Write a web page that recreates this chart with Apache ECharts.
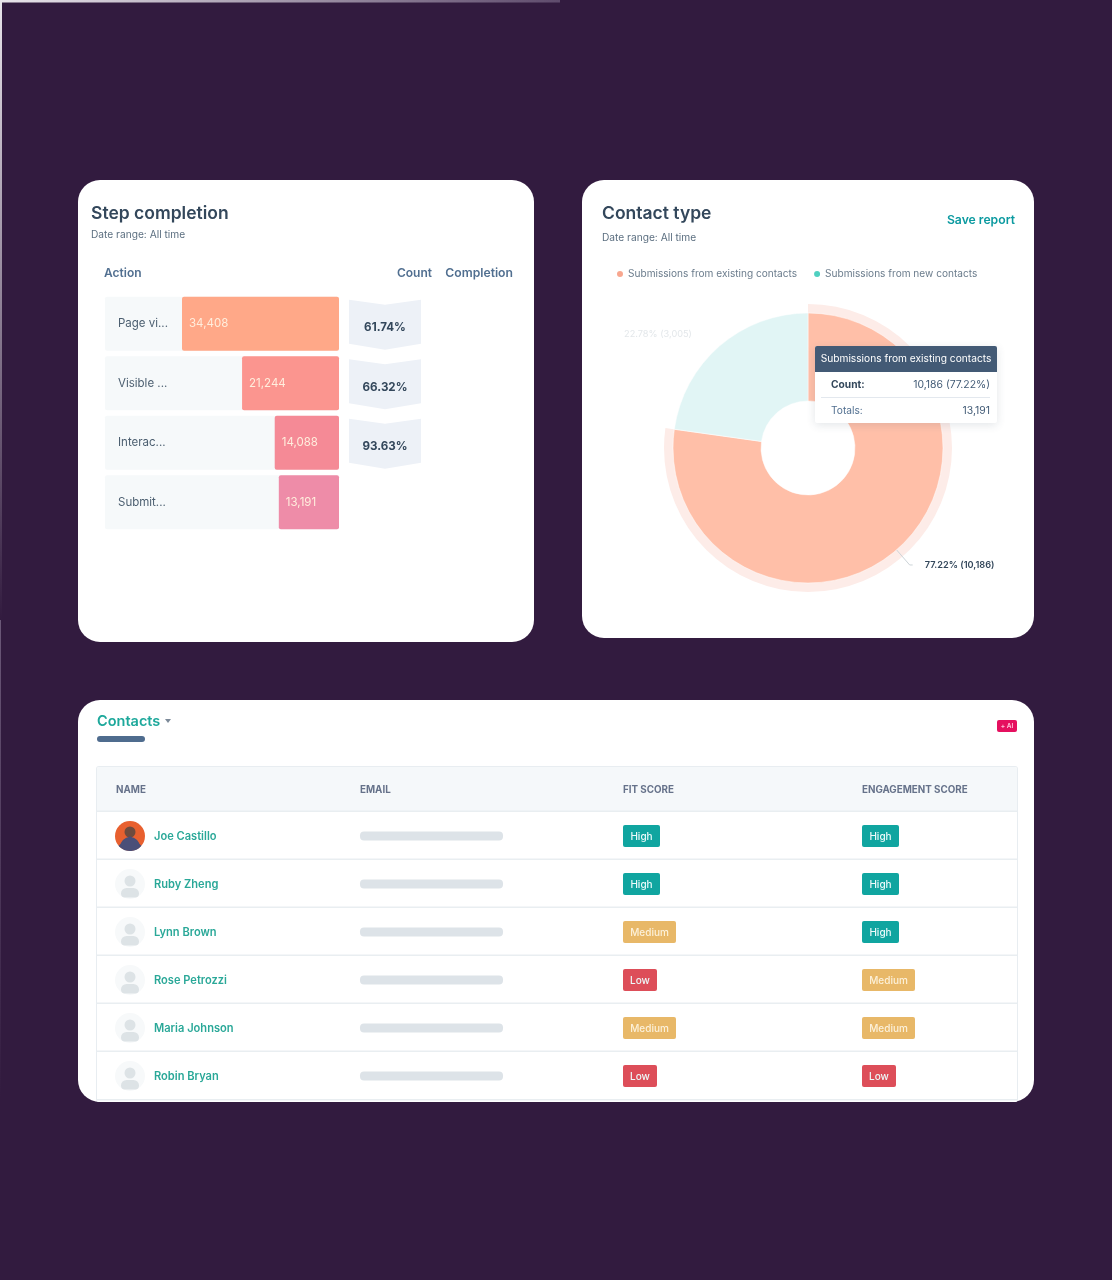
<!DOCTYPE html>
<html><head><meta charset="utf-8">
<style>html,body{margin:0;padding:0;background:#321b3f}#c{width:1112px;height:1280px}</style>
<script src="https://cdn.jsdelivr.net/npm/echarts@6/dist/echarts.min.js"></script>
</head><body><div id="c"></div>
<script>
const FONT = 'Inter';
const stepLabels = ['Page vi...', 'Visible ...', 'Interac...', 'Submit...'];
const stepCounts = [34408, 21244, 14088, 13191];
const stepColors = ['#ffa888', '#fb958f', '#f58a96', '#ee8ca8'];
const completionRates = [61.74, 66.32, 93.63];
const contactTypes = ['Submissions from existing contacts', 'Submissions from new contacts'];
const contactCounts = [10186, 3005];
const contactNames = ['Joe Castillo', 'Ruby Zheng', 'Lynn Brown', 'Rose Petrozzi', 'Maria Johnson', 'Robin Bryan'];
const fitScores = ['High', 'High', 'Medium', 'Low', 'Medium', 'Low'];
const engagementScores = ['High', 'High', 'High', 'Medium', 'Medium', 'Low'];
const tableHeaders = ['NAME', 'EMAIL', 'FIT SCORE', 'ENGAGEMENT SCORE'];

const els = [];
const rect = (x, y, w, h, fill, r, extra) => els.push(Object.assign({type:'rect', shape:{x, y, width:w, height:h, r:r||0}, style:{fill}, silent:true, z:0}, extra||{}));
const text = (x, y, t, size, fill, weight, align, extra) => els.push(Object.assign({type:'text', x, y, style:{text:t, fontFamily:FONT, fontSize:size, fill, fontWeight:weight||400, align:align||'left', verticalAlign:'middle'}, silent:true, z:1}, extra||{}));
const circle = (cx, cy, r, fill, extra) => els.push(Object.assign({type:'circle', shape:{cx, cy, r}, style:{fill}, silent:true, z:1}, extra||{}));
const wedge = (cx, cy, r, a0, a1, fill) => els.push({type:'sector', shape:{cx, cy, r, r0:0, startAngle:a0, endAngle:a1}, style:{fill}, silent:true, z:2});
const fade = (x2, y2, from, to) => new echarts.graphic.LinearGradient(0, 0, x2, y2, [{offset:0, color:from}, {offset:1, color:to}]);

// faint page edge, fading out along the top and the left
rect(0, 0, 560, 2.5, fade(1, 0, '#e9e5eb', '#5f4c6d'));
rect(0, 0, 2, 620, fade(0, 1, '#e9e5eb', '#321b3f'));
rect(0, 620, 1, 480, fade(0, 1, '#6b5878', '#321b3f'));
// cards
rect(78, 180, 456, 462, '#ffffff', 22);
rect(582, 180, 452, 458, '#ffffff', 22);
rect(78, 700, 956, 402, '#ffffff', 22);

// step completion text
text(91, 214, 'Step completion', 17.5, '#33475b', 600);
text(91, 235, 'Date range: All time', 10.2, '#5c6f80');
text(104, 273, 'Action', 12, '#516f90', 600);
text(432, 273, 'Count', 12, '#516f90', 600, 'right');
text(513, 273, 'Completion', 12.2, '#516f90', 600, 'right');

// contact type text
text(602, 214, 'Contact type', 17.5, '#33475b', 600);
text(602, 238, 'Date range: All time', 10.2, '#5c6f80');
text(1015, 220, 'Save report', 12.2, '#0b9aa0', 600, 'right');

// tooltip
const T = {z: 20};
rect(815, 346, 182, 77, '#ffffff', 2, {z:20, style:{fill:'#fff', shadowBlur:10, shadowColor:'rgba(50,70,90,0.14)', shadowOffsetY:2}});
rect(815, 346, 182, 26, '#435a75', [2,2,0,0], T);
text(906, 359, contactTypes[0], 10.2, '#ffffff', 400, 'center', {z:21});
text(831, 385, 'Count:', 10.2, '#33475b', 700, 'left', {z:21});
text(990, 385, '10,186 (77.22%)', 10.4, '#425b76', 400, 'right', {z:21});
rect(821, 397, 169, 1, '#e3e8ee', 0, T);
text(831, 411, 'Totals:', 10.2, '#516f90', 400, 'left', {z:21});
text(990, 411, '13,191', 10.4, '#425b76', 400, 'right', {z:21});

// contacts card
text(97, 722, 'Contacts', 14.5, '#1da89b', 600);
els.push({type:'polygon', shape:{points:[[165,719],[171,719],[168,723]]}, style:{fill:'#7c8a99'}, silent:true, z:1});
rect(97, 736, 48, 6, '#4f6c8e', 3);
rect(997, 720, 20, 12, '#e5105f', 2);
text(1007, 726.5, '+ AI', 6.5, '#ffc6dc', 600, 'center');

// table
const cols = [116, 360, 623, 862];
rect(96, 766, 922, 336, '#e8edf1', 3);
rect(97, 767, 920, 335, '#ffffff', 2);
rect(97, 767, 920, 44, '#f5f8fa', [2,2,0,0]);
tableHeaders.forEach((h, i) => text(cols[i], 790.5, h, 9.8, '#66728a', 700));
const badgeW = {High:37, Medium:53, Low:34};
const badgeC = {High:'#10a5a0', Medium:'#e8b868', Low:'#dd4e59'};
const badge = (x, cy, s) => {
  rect(x, cy-11, badgeW[s], 22, badgeC[s], 2, {z:1});
  text(x + badgeW[s]/2, cy+0.5, s, 10, s === 'Medium' ? '#fcf1da' : '#ecfafa', 500, 'center', {z:2});
};
contactNames.forEach((n, i) => {
  const cy = 836 + 48*i;
  rect(97, cy-25.5, 920, 1.6, '#e9eef1', 0, {z:1});
  if (i === 0) {
    circle(130, cy, 15, '#e8602f');
    circle(130, cy-4, 5.5, '#6f4b3e', {z:2});
    wedge(130, cy, 15, 0.7, Math.PI-0.7, '#4a4f78');
    wedge(130, cy+11, 10, Math.PI, 2*Math.PI, '#4a4f78');
  } else {
    circle(130, cy, 15, '#f7f9fa');
    circle(130, cy-3, 5.5, '#dde3e6', {z:2});
    rect(121, cy+4, 18, 9.5, '#dde3e6', [7,7,5,5], {z:2});
  }
  text(154, cy+1, n, 11.1, '#2aa898', 600);
  rect(360, cy-4.5, 143, 9, '#dde3e8', 4, {z:1});
  badge(623, cy, fitScores[i]);
  badge(862, cy, engagementScores[i]);
});
rect(97, 1099, 920, 1.5, '#e9eef1', 0, {z:1});

const option = {
  backgroundColor: '#321b3f',
  animation: false,
  textStyle: {fontFamily: FONT},
  graphic: {elements: els},
  legend: {
    left: 610, top: 264, itemWidth: 8, itemHeight: 8, itemGap: 15, icon: 'circle',
    textStyle: {color: '#6b7c8c', fontSize: 10.1, fontFamily: FONT, padding:[0,0,0,-1]},
    data: [{name: contactTypes[0], itemStyle:{color:'#f8a78f'}}, {name: contactTypes[1], itemStyle:{color:'#4fd0c0'}}]
  },
  grid: [
    {left: 105, top: 294, width: 234, height: 238},
    {left: 349, top: 294, width: 72, height: 238}
  ],
  xAxis: [
    {gridIndex: 0, type: 'value', inverse: true, min: 0, max: 51284, show: false},
    {gridIndex: 1, type: 'value', min: 0, max: 1, show: false}
  ],
  yAxis: [
    {gridIndex: 0, type: 'category', inverse: true, data: stepLabels, position: 'left', axisLine:{show:false}, axisTick:{show:false}, z: 5,
      axisLabel: {inside: true, margin: 13, color: '#4c5f70', fontSize: 11.5, fontFamily: FONT, align:'left'}},
    {gridIndex: 1, type: 'category', inverse: true, data: stepLabels, show: false}
  ],
  series: [
    {type: 'bar', xAxisIndex: 0, yAxisIndex: 0, barWidth: 54, data: stepCounts.map((v, i) => ({value: v, itemStyle: {color: stepColors[i], borderRadius: 2}})),
      showBackground: true, backgroundStyle: {color: '#f6f9fa', borderRadius: 2},
      label: {show: true, position: 'insideLeft', distance: 7, color: '#ffeedd', fontSize: 11.5, fontFamily: FONT,
        formatter: p => p.value.toLocaleString('en-US')}},
    {type: 'custom', xAxisIndex: 1, yAxisIndex: 1, data: completionRates.map((v, i) => [0, i, v]), encode: {x: 0, y: 1},
      renderItem: (params, api) => {
        const p = api.coord([0, api.value(1)]);
        const w = api.size([1, 0])[0];
        const x0 = p[0], x1 = p[0] + w, c = p[1] + 1, m = (x0 + x1) / 2;
        const pts = [[x0, c-25],[m, c-20],[x1, c-25],[x1, c+19],[m, c+25],[x0, c+19]];
        return {type:'group', children:[
          {type:'polygon', shape:{points:pts}, style:{fill:'#edf1f7'}},
          {type:'text', style:{text: api.value(2).toFixed(2) + '%', x:m, y:c+3, align:'center', verticalAlign:'middle', fontFamily:FONT, fontSize:11.6, fontWeight:700, fill:'#33475b'}}
        ]};
      }},
    {type: 'pie', center: [808, 448], radius: [47, 135], startAngle: 90, clockwise: true, percentPrecision: 2, z: 3, silent: true,
      itemStyle: {borderColor:'#ffffff', borderWidth:0.5},
      label: {show: true, position: 'outside', fontFamily: FONT, fontSize: 9.2, formatter: p => p.percent.toFixed(2) + '% (' + p.value.toLocaleString('en-US') + ')'},
      labelLine: {show: true, length: 20, length2: 3, lineStyle: {color: '#cdd4d8', width: 1}},
      data: [
        {name: contactTypes[0], value: contactCounts[0], itemStyle: {color: '#ffbfa8'}, label: {color: '#33475b', fontWeight: 600, distanceToLabelLine: 12}},
        {name: contactTypes[1], value: contactCounts[1], itemStyle: {color: '#e1f5f5'}, label: {color: '#e3e7ea'}, labelLine: {show: false, length: 16, length2: 12}}
      ]},
    {type: 'pie', center: [808, 448], radius: [134, 144], startAngle: 90, clockwise: true, z: 2, silent: true, label: {show: false}, labelLine: {show: false},
      data: [
        {name: contactTypes[0], value: contactCounts[0], itemStyle: {color: '#fdece8'}},
        {name: contactTypes[1], value: contactCounts[1], itemStyle: {color: 'rgba(255,255,255,0)'}}
      ]}
  ]
};
const chart = echarts.init(document.getElementById('c'));
chart.setOption(option);
</script></body></html>
